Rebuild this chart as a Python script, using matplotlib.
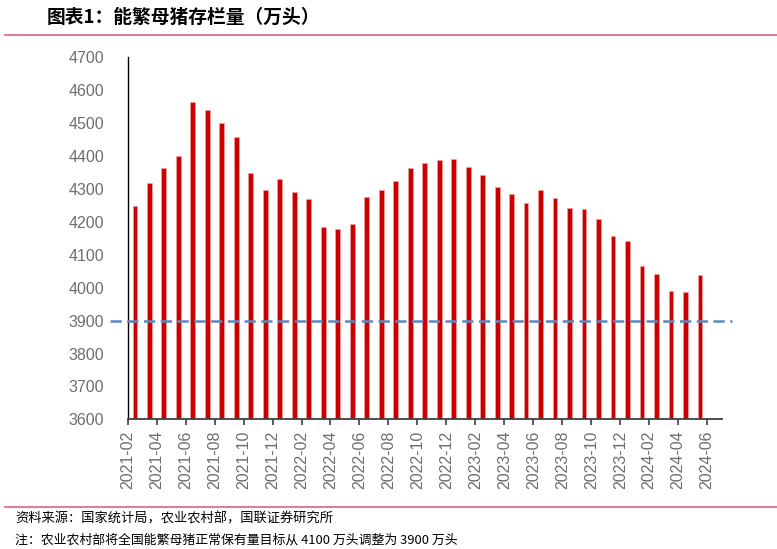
import matplotlib.pyplot as plt
from matplotlib.lines import Line2D

plt.rcParams['font.family'] = ['Liberation Sans', 'Noto Sans CJK SC', 'DejaVu Sans']

# monthly sow inventory, 2021-02 .. 2024-05 (10k head)
months = ['2021-02', '2021-03', '2021-04', '2021-05', '2021-06', '2021-07', '2021-08',
          '2021-09', '2021-10', '2021-11', '2021-12', '2022-01', '2022-02', '2022-03',
          '2022-04', '2022-05', '2022-06', '2022-07', '2022-08', '2022-09', '2022-10',
          '2022-11', '2022-12', '2023-01', '2023-02', '2023-03', '2023-04', '2023-05',
          '2023-06', '2023-07', '2023-08', '2023-09', '2023-10', '2023-11', '2023-12',
          '2024-01', '2024-02', '2024-03', '2024-04', '2024-05']
values = [4248, 4318, 4365, 4400, 4564, 4541, 4500, 4459, 4348, 4296, 4329, 4290, 4268,
          4185, 4177, 4192, 4277, 4298, 4324, 4363, 4379, 4388, 4390, 4367, 4343, 4305,
          4284, 4258, 4296, 4272, 4241, 4240, 4210, 4158, 4142, 4066, 4041, 3991, 3986, 4039]
tick_labels = ['2021-02', '2021-04', '2021-06', '2021-08', '2021-10', '2021-12',
               '2022-02', '2022-04', '2022-06', '2022-08', '2022-10', '2022-12',
               '2023-02', '2023-04', '2023-06', '2023-08', '2023-10', '2023-12',
               '2024-02', '2024-04', '2024-06']
target = 3900

fig = plt.figure(figsize=(7.77, 5.49), dpi=100)
ax = fig.add_axes([0.1643, 0.2362, 0.7645, 0.6594])

x = list(range(len(values)))
ax.bar(x, values, width=0.33, color='#CC0000', edgecolor='#F2A8A8', linewidth=0.4, zorder=2)

# target line, runs a bit outside the plot area
ax.plot([-0.029, 1.017], [target, target], transform=ax.get_yaxis_transform(),
        color='#5B87C5', linewidth=1.8, linestyle=(0, (4.5, 2.2)), clip_on=False, zorder=3)

ax.set_xlim(-0.5, len(values) + 0.5)
ax.set_ylim(3600, 4700)
ax.set_yticks(range(3600, 4701, 100))
ax.set_xticks([-0.5 + 2 * k for k in range(len(tick_labels))])
ax.set_xticklabels(tick_labels, rotation=90)

for s in ['top', 'right']:
    ax.spines[s].set_visible(False)
ax.spines['left'].set_color('black')
ax.spines['bottom'].set_color('#404040')
ax.spines['left'].set_linewidth(1.0)
ax.spines['bottom'].set_linewidth(1.3)
ax.tick_params(axis='y', length=0, pad=17, labelsize=11.5, labelcolor='#6e6e6e')
ax.tick_params(axis='x', length=4, width=1.2, color='#404040', pad=4,
               labelsize=11.5, labelcolor='#6e6e6e')

# header / footer
fig.text(0.06, 0.968, '图表1：能繁母猪存栏量（万头）', fontsize=13.5, fontweight='bold',
         va='center', ha='left', family=['Noto Sans CJK SC', 'DejaVu Sans'])
fig.add_artist(Line2D([5 / 777, 1.0], [1 - 34.5 / 549] * 2, color='#E36F87', linewidth=1.3))
fig.add_artist(Line2D([5 / 777, 1.0], [1 - 507 / 549] * 2, color='#E36F87', linewidth=1.3))
fig.text(15 / 777, 1 - 519 / 549, '资料来源：国家统计局，农业农村部，国联证券研究所',
         fontsize=9.5, va='center', ha='left', family=['Noto Sans CJK SC', 'DejaVu Sans'])
fig.text(15 / 777, 1 - 540 / 549, '注：农业农村部将全国能繁母猪正常保有量目标从 4100 万头调整为 3900 万头',
         fontsize=9.3, va='center', ha='left', family=['Noto Sans CJK SC', 'DejaVu Sans'])

fig.savefig('out.png', dpi=100)
